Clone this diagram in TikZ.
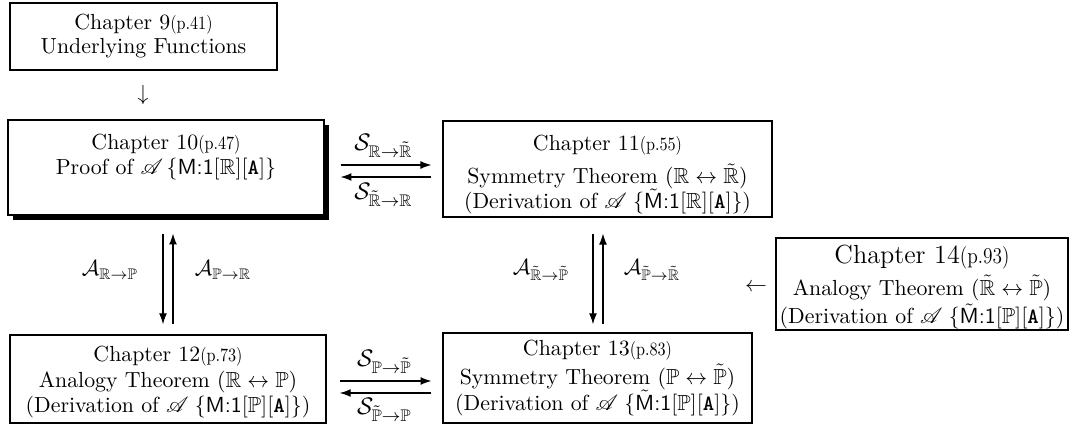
\documentclass[tikz,border=0pt]{standalone}
\usepackage{amssymb,mathrsfs}
\usetikzlibrary{shadows,arrows.meta}
\newcommand{\pg}[1]{\scalebox{0.74}[0.86]{(p.#1)}}
\newcommand{\Mf}{\textsf{M}}
\newcommand{\Af}{\texttt{\textbf{A}}}
\begin{document}
\begin{tikzpicture}[x=0.458pt,y=-0.458pt,
 box/.style={draw, line width=0.6pt, rectangle, align=center, inner sep=0pt},
 arr/.style={-{Latex[length=5pt,width=3.6pt]}, line width=0.5pt},
 lbl/.style={inner sep=1pt, font=\fontsize{11}{13}\selectfont},
 albl/.style={inner sep=1pt}]
\useasboundingbox (0,0) rectangle (1077,436);
\node[box, minimum width=122.3pt, minimum height=30.7pt] (ch9) at (143.5,36.5)
  {Chapter 9\pg{41}\\[-1pt] Underlying Functions};
\node (dn) at (143,95) {$\downarrow$};
\node[box, minimum width=144.7pt, minimum height=43.5pt,
  drop shadow={shadow xshift=2.4pt, shadow yshift=-2.4pt, fill=black, opacity=1}, fill=white] (ch10) at (166,167.5)
  {Chapter 10\pg{47}\\[-0.5pt] Proof of $\mathscr{A}\,\{\textsf{M:1}[\mathbb{R}][\Af]\}$\\ \mbox{}};
\node[box, minimum width=150.7pt, minimum height=44pt] (ch11) at (607.5,169)
  {\rule{0pt}{12.5pt}Chapter 11\pg{55}\\[3pt] Symmetry Theorem ($\mathbb{R}\leftrightarrow\tilde{\mathbb{R}}$)\\[-0.5pt] (Derivation of $\mathscr{A}\;\{\tilde{\Mf}\textsf{:1}[\mathbb{R}][\Af]\}$)};
\node[box, minimum width=144.7pt, minimum height=40.3pt] (ch12) at (168,379)
  {\rule{0pt}{10pt}Chapter 12\pg{73}\\[0pt] Analogy Theorem ($\mathbb{R}\leftrightarrow\mathbb{P}$)\\[-0.5pt] (Derivation of $\mathscr{A}\;\{\textsf{M:1}[\mathbb{P}][\Af]\}$)};
\node[box, minimum width=141.5pt, minimum height=41.2pt] (ch13) at (597.5,378)
  {Chapter 13\pg{83}\\[1pt] Symmetry Theorem ($\mathbb{P}\leftrightarrow\tilde{\mathbb{P}}$)\\ (Derivation of $\mathscr{A}\;\{\tilde{\Mf}\textsf{:1}[\mathbb{P}][\Af]\}$)};
\node[box, minimum width=133.7pt, minimum height=42.1pt] (ch14) at (922,284)
  {{\large\rule{0pt}{11.5pt}Chapter 14\pg{93}}\\[2.5pt] Analogy Theorem ($\tilde{\mathbb{R}}\leftrightarrow\tilde{\mathbb{P}}$)\\[1pt] (Derivation of $\mathscr{A}\;\{\tilde{\Mf}\textsf{:1}[\mathbb{P}][\Af]\}$)};
\node (lt) at (756,287) {$\leftarrow$};
% top horizontal
\draw[arr, shorten <=7.3pt, shorten >=5pt] (ch10.east |- 0,165) -- node[lbl, above=2pt] (s1) {$\mathcal{S}_{\mathbb{R}\to\tilde{\mathbb{R}}}$} (ch11.west |- 0,165);
\draw[arr, shorten <=5pt, shorten >=7.3pt] (ch11.west |- 0,177) -- node[lbl, below=1.5pt] (s2) {$\mathcal{S}_{\tilde{\mathbb{R}}\to\mathbb{R}}$} (ch10.east |- 0,177);
% bottom horizontal
\draw[arr, shorten <=6pt, shorten >=5pt] (ch12.east |- 0,381) -- node[lbl, above=2pt] (s3) {$\mathcal{S}_{\mathbb{P}\to\tilde{\mathbb{P}}}$} (ch13.west |- 0,381);
\draw[arr, shorten <=5pt, shorten >=6pt] (ch13.west |- 0,393) -- node[lbl, below=1pt] (s4) {$\mathcal{S}_{\tilde{\mathbb{P}}\to\mathbb{P}}$} (ch12.east |- 0,393);
% left vertical
\draw[arr, shorten <=8.2pt, shorten >=4.6pt] (ch10.south -| 163,0) -- (ch12.north -| 163,0);
\draw[arr, shorten <=4.6pt, shorten >=8.2pt] (ch12.north -| 173,0) -- (ch10.south -| 173,0);
\node[albl] (a1) at (110,270) {$\mathcal{A}_{\mathbb{R}\to\mathbb{P}}$};
\node[albl] (a2) at (223,270) {$\mathcal{A}_{\mathbb{P}\to\mathbb{R}}$};
% right vertical
\draw[arr, shorten <=7.3pt, shorten >=3.7pt] (ch11.south -| 593,0) -- (ch13.north -| 593,0);
\draw[arr, shorten <=3.7pt, shorten >=7.3pt] (ch13.north -| 603,0) -- (ch11.south -| 603,0);
\node[albl] (a3) at (541,270) {$\mathcal{A}_{\tilde{\mathbb{R}}\to\tilde{\mathbb{P}}}$};
\node[albl] (a4) at (652,270) {$\mathcal{A}_{\tilde{\mathbb{P}}\to\tilde{\mathbb{R}}}$};
\end{tikzpicture}
\end{document}
